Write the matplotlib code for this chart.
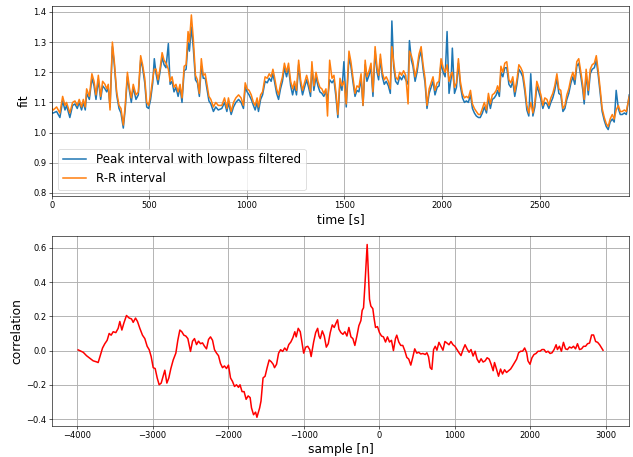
import numpy as np
import matplotlib
matplotlib.use("Agg")
import matplotlib.pyplot as plt

# top panel: time [s], R-R interval and peak interval (lowpass filtered)
time_s = [
    0, 7, 24, 41, 55, 67, 75, 92, 106, 118,
    130, 140, 152, 161, 171, 178, 192, 205, 216, 226,
    238, 250, 260, 272, 281, 289, 298, 310, 320, 332,
    344, 354, 366, 376, 387, 397, 407, 417, 431, 443,
    455, 465, 476, 486, 496, 506, 517, 525, 534, 544,
    554, 565, 575, 585, 597, 606, 616, 626, 636, 647,
    657, 667, 678, 688, 698, 705, 715, 725, 736, 746,
    756, 766, 776, 786, 795, 805, 815, 828, 840, 853,
    871, 885, 897, 905, 919, 931, 943, 957, 970, 982,
    991, 1001, 1011, 1022, 1033, 1042, 1052, 1059, 1070, 1080,
    1093, 1104, 1114, 1124, 1133, 1141, 1152, 1162, 1172, 1182,
    1192, 1203, 1213, 1224, 1234, 1244, 1254, 1265, 1275, 1285,
    1295, 1306, 1316, 1326, 1333, 1343, 1354, 1364, 1374, 1384,
    1394, 1405, 1413, 1424, 1436, 1446, 1456, 1466, 1477, 1487,
    1497, 1509, 1523, 1533, 1543, 1554, 1564, 1574, 1585, 1595,
    1606, 1615, 1626, 1636, 1646, 1657, 1667, 1675, 1684, 1694,
    1704, 1714, 1725, 1735, 1743, 1752, 1762, 1773, 1783, 1793,
    1803, 1814, 1826, 1833, 1843, 1851, 1862, 1872, 1882, 1893,
    1903, 1913, 1923, 1934, 1944, 1954, 1964, 1975, 1985, 1995,
    2006, 2016, 2026, 2036, 2047, 2053, 2064, 2074, 2084, 2094,
    2105, 2115, 2125, 2135, 2146, 2156, 2166, 2176, 2187, 2196,
    2207, 2217, 2228, 2238, 2248, 2258, 2268, 2278, 2285, 2294,
    2302, 2312, 2322, 2332, 2343, 2353, 2363, 2373, 2384, 2394,
    2404, 2414, 2425, 2435, 2445, 2455, 2466, 2476, 2486, 2496,
    2507, 2517, 2527, 2538, 2548, 2558, 2568, 2578, 2589, 2599,
    2609, 2620, 2630, 2640, 2650, 2661, 2671, 2681, 2691, 2701,
    2712, 2722, 2729, 2739, 2750, 2760, 2770, 2781, 2791, 2801,
    2811, 2821, 2832, 2842, 2852, 2862, 2873, 2883, 2893, 2904,
    2914, 2924, 2935, 2945, 2960,
]
rr_interval = [
    1.08, 1.075, 1.085, 1.065, 1.12, 1.09, 1.10, 1.065, 1.10, 1.105,
    1.09, 1.11, 1.085, 1.11, 1.085, 1.145, 1.12, 1.195, 1.17, 1.125,
    1.19, 1.12, 1.17, 1.16, 1.145, 1.16, 1.075, 1.30, 1.235, 1.135,
    1.09, 1.08, 1.025, 1.09, 1.20, 1.15, 1.115, 1.16, 1.125, 1.135,
    1.255, 1.225, 1.18, 1.10, 1.09, 1.125, 1.18, 1.21, 1.21, 1.175,
    1.21, 1.265, 1.24, 1.23, 1.21, 1.17, 1.185, 1.15, 1.16, 1.135,
    1.16, 1.115, 1.22, 1.225, 1.335, 1.30, 1.39, 1.31, 1.19, 1.175,
    1.13, 1.245, 1.19, 1.195, 1.16, 1.12, 1.11, 1.085, 1.10, 1.09,
    1.09, 1.115, 1.08, 1.115, 1.07, 1.10, 1.115, 1.125, 1.115, 1.09,
    1.165, 1.145, 1.14, 1.125, 1.10, 1.09, 1.115, 1.085, 1.125, 1.135,
    1.185, 1.18, 1.195, 1.185, 1.21, 1.185, 1.145, 1.125, 1.16, 1.185,
    1.23, 1.20, 1.23, 1.17, 1.145, 1.17, 1.14, 1.24, 1.175, 1.14,
    1.165, 1.19, 1.165, 1.135, 1.235, 1.155, 1.20, 1.17, 1.15, 1.145,
    1.13, 1.145, 1.055, 1.24, 1.18, 1.19, 1.135, 1.06, 1.18, 1.155,
    1.17, 1.095, 1.27, 1.235, 1.185, 1.13, 1.155, 1.15, 1.195, 1.09,
    1.24, 1.185, 1.205, 1.23, 1.135, 1.285, 1.215, 1.19, 1.26, 1.20,
    1.175, 1.185, 1.17, 1.145, 1.285, 1.235, 1.185, 1.175, 1.20, 1.19,
    1.205, 1.19, 1.095, 1.27, 1.255, 1.235, 1.185, 1.215, 1.26, 1.285,
    1.225, 1.18, 1.09, 1.145, 1.165, 1.185, 1.14, 1.165, 1.17, 1.245,
    1.215, 1.20, 1.225, 1.17, 1.195, 1.20, 1.15, 1.165, 1.245, 1.17,
    1.13, 1.115, 1.12, 1.115, 1.14, 1.095, 1.08, 1.07, 1.06, 1.06,
    1.08, 1.10, 1.075, 1.13, 1.095, 1.125, 1.13, 1.14, 1.155, 1.135,
    1.22, 1.20, 1.23, 1.235, 1.175, 1.165, 1.185, 1.135, 1.175, 1.225,
    1.215, 1.20, 1.15, 1.09, 1.065, 1.10, 1.065, 1.10, 1.17, 1.15,
    1.125, 1.09, 1.115, 1.11, 1.09, 1.115, 1.13, 1.155, 1.195, 1.145,
    1.14, 1.08, 1.09, 1.125, 1.145, 1.18, 1.20, 1.175, 1.235, 1.245,
    1.20, 1.155, 1.11, 1.21, 1.14, 1.21, 1.225, 1.23, 1.255, 1.205,
    1.145, 1.08, 1.05, 1.03, 1.02, 1.045, 1.06, 1.045, 1.075, 1.09,
    1.07, 1.07, 1.075, 1.07, 1.12,
]
peak_interval = [
    1.065, 1.065, 1.07, 1.05, 1.105, 1.075, 1.09, 1.05, 1.09, 1.095,
    1.08, 1.10, 1.075, 1.10, 1.075, 1.13, 1.11, 1.18, 1.155, 1.11,
    1.175, 1.11, 1.155, 1.145, 1.135, 1.15, 1.085, 1.285, 1.225, 1.125,
    1.08, 1.065, 1.015, 1.08, 1.185, 1.14, 1.10, 1.15, 1.11, 1.125,
    1.24, 1.215, 1.165, 1.085, 1.08, 1.11, 1.165, 1.245, 1.195, 1.16,
    1.20, 1.25, 1.225, 1.215, 1.295, 1.16, 1.17, 1.135, 1.15, 1.12,
    1.15, 1.10, 1.205, 1.21, 1.30, 1.27, 1.35, 1.28, 1.175, 1.165,
    1.12, 1.22, 1.18, 1.18, 1.145, 1.105, 1.095, 1.07, 1.085, 1.075,
    1.08, 1.10, 1.07, 1.10, 1.06, 1.085, 1.10, 1.11, 1.10, 1.08,
    1.15, 1.135, 1.125, 1.11, 1.09, 1.075, 1.10, 1.07, 1.11, 1.125,
    1.17, 1.165, 1.18, 1.17, 1.195, 1.17, 1.13, 1.11, 1.145, 1.17,
    1.215, 1.185, 1.215, 1.155, 1.125, 1.155, 1.125, 1.225, 1.16, 1.125,
    1.15, 1.175, 1.15, 1.12, 1.22, 1.14, 1.185, 1.155, 1.135, 1.13,
    1.12, 1.135, 1.11, 1.175, 1.165, 1.175, 1.12, 1.05, 1.165, 1.14,
    1.235, 1.085, 1.25, 1.22, 1.17, 1.12, 1.14, 1.135, 1.18, 1.09,
    1.225, 1.17, 1.19, 1.215, 1.12, 1.27, 1.20, 1.175, 1.245, 1.185,
    1.16, 1.17, 1.155, 1.13, 1.37, 1.22, 1.17, 1.16, 1.185, 1.175,
    1.19, 1.175, 1.16, 1.305, 1.24, 1.22, 1.17, 1.20, 1.245, 1.27,
    1.21, 1.165, 1.08, 1.13, 1.15, 1.17, 1.125, 1.15, 1.155, 1.23,
    1.20, 1.185, 1.335, 1.13, 1.18, 1.28, 1.13, 1.15, 1.23, 1.155,
    1.115, 1.10, 1.105, 1.10, 1.125, 1.08, 1.065, 1.055, 1.05, 1.05,
    1.065, 1.085, 1.065, 1.115, 1.08, 1.11, 1.115, 1.125, 1.14, 1.12,
    1.20, 1.185, 1.215, 1.215, 1.16, 1.15, 1.17, 1.12, 1.16, 1.21,
    1.20, 1.185, 1.135, 1.075, 1.055, 1.195, 1.055, 1.085, 1.155, 1.135,
    1.11, 1.08, 1.10, 1.095, 1.08, 1.10, 1.115, 1.14, 1.18, 1.13,
    1.125, 1.07, 1.08, 1.11, 1.13, 1.165, 1.185, 1.16, 1.22, 1.23,
    1.185, 1.14, 1.095, 1.195, 1.125, 1.195, 1.21, 1.215, 1.24, 1.19,
    1.13, 1.07, 1.04, 1.02, 1.01, 1.035, 1.045, 1.035, 1.14, 1.08,
    1.06, 1.06, 1.065, 1.06, 1.125,
]

# bottom panel: cross-correlation vs lag
lag_n = [
    -3987, -3920, -3876, -3832, -3788, -3744, -3722, -3691, -3664, -3634,
    -3603, -3576, -3550, -3523, -3488, -3457, -3435, -3408, -3382, -3347,
    -3311, -3280, -3258, -3227, -3201, -3170, -3135, -3104, -3073, -3046,
    -3020, -2993, -2967, -2940, -2914, -2887, -2861, -2839, -2812, -2786,
    -2759, -2728, -2693, -2667, -2640, -2614, -2587, -2561, -2534, -2499,
    -2472, -2446, -2419, -2393, -2366, -2340, -2313, -2287, -2260, -2234,
    -2207, -2181, -2154, -2128, -2102, -2075, -2049, -2022, -1996, -1969,
    -1943, -1916, -1890, -1863, -1843, -1816, -1789, -1762, -1735, -1709,
    -1691, -1664, -1637, -1619, -1583, -1565, -1538, -1511, -1484, -1457,
    -1430, -1404, -1386, -1359, -1332, -1305, -1278, -1251, -1224, -1197,
    -1170, -1143, -1117, -1099, -1072, -1045, -1018, -1000, -973, -946,
    -919, -901, -868, -841, -815, -797, -780, -753, -727, -700,
    -674, -648, -621, -595, -577, -551, -533, -507, -480, -454,
    -427, -401, -374, -348, -322, -295, -269, -242, -225, -207,
    -189, -172, -159, -145, -128, -110, -84, -66, -48, -22,
    4, 31, 57, 84, 110, 137, 163, 189, 216, 233,
    260, 286, 313, 339, 366, 392, 419, 445, 471, 498,
    524, 551, 579, 610, 632, 654, 676, 698, 721, 743,
    765, 792, 818, 845, 871, 898, 925, 951, 978, 1004,
    1031, 1058, 1084, 1111, 1138, 1164, 1191, 1217, 1244, 1271,
    1297, 1324, 1350, 1377, 1404, 1430, 1457, 1483, 1510, 1528,
    1554, 1581, 1608, 1634, 1661, 1687, 1714, 1741, 1767, 1794,
    1821, 1847, 1874, 1900, 1927, 1954, 1971, 1998, 2024, 2051,
    2078, 2104, 2131, 2157, 2184, 2211, 2237, 2264, 2290, 2317,
    2344, 2361, 2388, 2414, 2441, 2468, 2494, 2521, 2548, 2574,
    2601, 2627, 2654, 2681, 2707, 2734, 2760, 2787, 2814, 2840,
    2867, 2894, 2920, 2947, 2965,
]
correlation = [
    0.004, -0.01, -0.03, -0.045, -0.06, -0.066, -0.07, -0.025, 0.015, 0.04,
    0.06, 0.10, 0.09, 0.11, 0.105, 0.13, 0.17, 0.12, 0.16, 0.205,
    0.19, 0.185, 0.165, 0.19, 0.17, 0.13, 0.09, 0.07, 0.025, 0.005,
    -0.035, -0.10, -0.105, -0.16, -0.20, -0.19, -0.15, -0.115, -0.19, -0.16,
    -0.105, -0.055, -0.015, 0.06, 0.12, 0.11, 0.09, 0.085, 0.07, -0.005,
    0.055, 0.07, 0.035, 0.055, 0.04, 0.045, 0.025, 0.01, 0.065, 0.08,
    0.06, 0.005, -0.015, -0.03, -0.075, -0.10, -0.09, -0.105, -0.085, -0.16,
    -0.18, -0.21, -0.20, -0.215, -0.20, -0.24, -0.24, -0.285, -0.265, -0.275,
    -0.335, -0.375, -0.36, -0.39, -0.335, -0.295, -0.16, -0.15, -0.10, -0.055,
    -0.065, -0.08, -0.10, -0.08, -0.015, 0.005, -0.005, 0.015, 0.0, 0.035,
    0.05, 0.075, 0.11, 0.08, 0.13, 0.11, 0.035, -0.015, 0.02, 0.025,
    0.005, -0.035, 0.05, 0.105, 0.13, 0.085, 0.07, 0.115, 0.085, 0.02,
    0.04, 0.105, 0.15, 0.135, 0.155, 0.18, 0.125, 0.105, 0.095, 0.11,
    0.085, 0.135, 0.08, 0.07, 0.03, 0.085, 0.145, 0.175, 0.235, 0.25,
    0.38, 0.515, 0.62, 0.475, 0.30, 0.26, 0.245, 0.185, 0.135, 0.14,
    0.105, 0.085, 0.08, 0.05, 0.08, 0.05, 0.06, 0.0, 0.07, 0.09,
    0.05, 0.03, 0.03, 0.0, -0.04, -0.05, -0.085, -0.04, 0.01, -0.015,
    -0.01, -0.02, -0.017, -0.023, -0.013, -0.036, -0.10, -0.11, 0.006, 0.025,
    0.002, 0.048, 0.025, 0.002, 0.053, 0.044, 0.034, 0.053, 0.034, 0.025,
    0.006, -0.013, -0.029, 0.006, 0.034, 0.01, -0.01, 0.006, -0.032, -0.004,
    -0.05, -0.07, -0.048, -0.067, -0.06, -0.042, -0.05, -0.08, -0.118, -0.07,
    -0.108, -0.15, -0.108, -0.137, -0.112, -0.128, -0.118, -0.108, -0.09, -0.07,
    -0.05, -0.013, -0.004, -0.004, 0.015, -0.013, -0.06, -0.08, -0.042, -0.023,
    -0.017, -0.004, -0.004, 0.006, 0.006, -0.01, -0.004, -0.017, -0.013, 0.006,
    0.034, 0.006, 0.025, -0.004, 0.048, 0.01, 0.006, 0.021, 0.015, 0.025,
    0.01, 0.04, 0.006, 0.01, 0.025, 0.025, 0.04, 0.044, 0.091, 0.091,
    0.053, 0.048, 0.034, 0.015, 0.002,
]

fig, (ax1, ax2) = plt.subplots(2, 1, figsize=(11.51, 8.31), dpi=55)
plt.subplots_adjust(left=0.082, right=0.994, top=0.987, bottom=0.068, hspace=0.21)

ax1.plot(time_s, peak_interval, lw=2, label="Peak interval with lowpass filtered")
ax1.plot(time_s, rr_interval, lw=2, label="R-R interval")
ax1.set_xlim(0, 2960)
ax1.set_ylim(0.79, 1.42)
ax1.set_xlabel("time [s]", fontsize=16)
ax1.set_ylabel("fit", fontsize=16)
ax1.legend(loc="lower left", fontsize=15.5)
ax1.grid(True, lw=1.2)
ax1.tick_params(labelsize=11)

ax2.plot(lag_n, correlation, color="red", lw=2)
ax2.set_xlabel("sample [n]", fontsize=16)
ax2.set_ylabel("correlation", fontsize=16)
ax2.grid(True, lw=1.2)
ax2.tick_params(labelsize=11)

plt.savefig("out.png", dpi=55)
